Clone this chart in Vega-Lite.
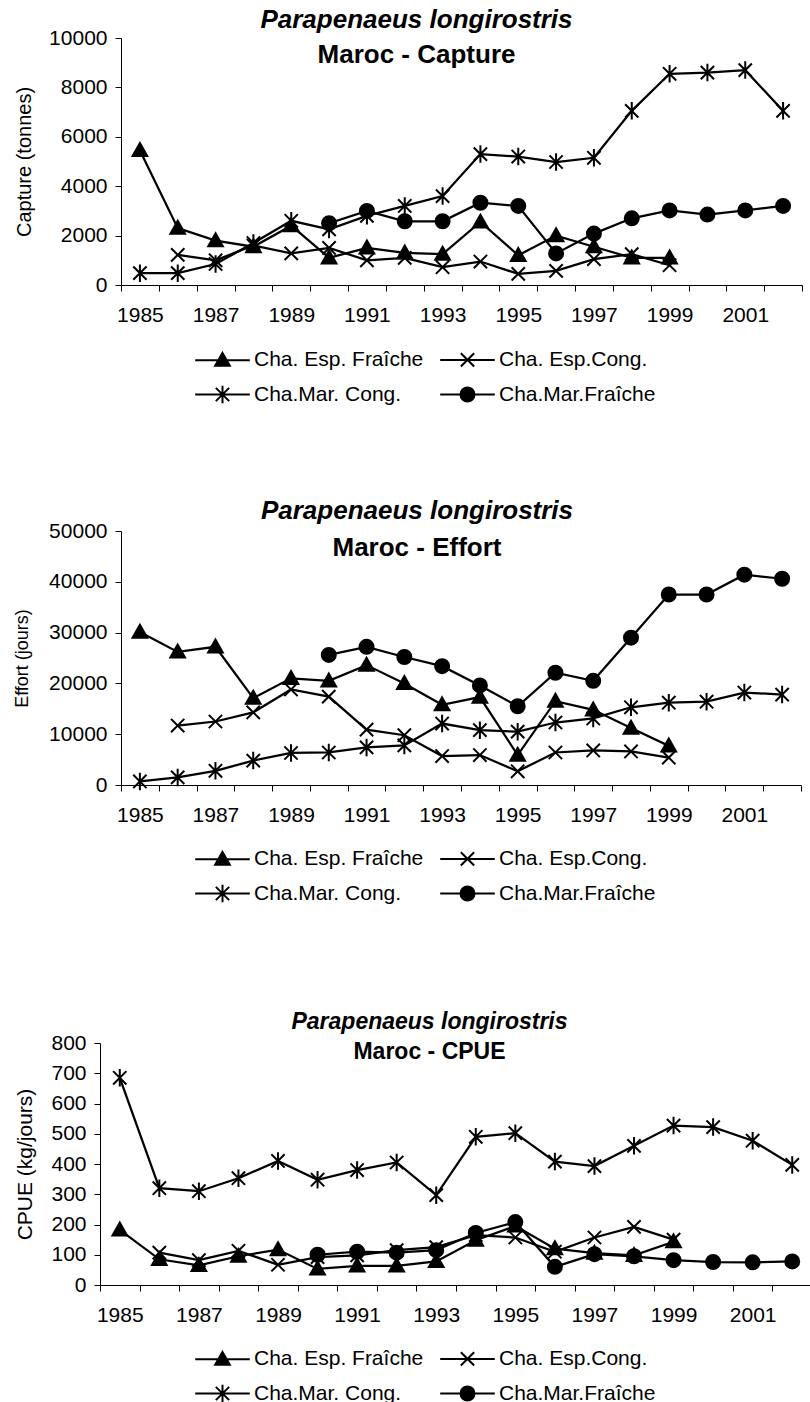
{
  "$schema": "https://vega.github.io/schema/vega-lite/v6.json",
  "background": "white",
  "padding": {"left": 13, "top": 7, "right": 0, "bottom": 0},
  "spacing": 90,
  "resolve": {"scale": {"shape": "independent"}, "legend": {"shape": "independent"}},
  "datasets": {
    "capture": [
      {"year": 1985, "s": "Cha. Esp. Fraîche", "v": 5450}, {"year": 1986, "s": "Cha. Esp. Fraîche", "v": 2300}, {"year": 1987, "s": "Cha. Esp. Fraîche", "v": 1800}, {"year": 1988, "s": "Cha. Esp. Fraîche", "v": 1550}, {"year": 1989, "s": "Cha. Esp. Fraîche", "v": 2400}, {"year": 1990, "s": "Cha. Esp. Fraîche", "v": 1100}, {"year": 1991, "s": "Cha. Esp. Fraîche", "v": 1500}, {"year": 1992, "s": "Cha. Esp. Fraîche", "v": 1300}, {"year": 1993, "s": "Cha. Esp. Fraîche", "v": 1250}, {"year": 1994, "s": "Cha. Esp. Fraîche", "v": 2550}, {"year": 1995, "s": "Cha. Esp. Fraîche", "v": 1200}, {"year": 1996, "s": "Cha. Esp. Fraîche", "v": 2000}, {"year": 1997, "s": "Cha. Esp. Fraîche", "v": 1550}, {"year": 1998, "s": "Cha. Esp. Fraîche", "v": 1100}, {"year": 1999, "s": "Cha. Esp. Fraîche", "v": 1100},
      {"year": 1986, "s": "Cha. Esp.Cong.", "v": 1220}, {"year": 1987, "s": "Cha. Esp.Cong.", "v": 1000}, {"year": 1988, "s": "Cha. Esp.Cong.", "v": 1600}, {"year": 1989, "s": "Cha. Esp.Cong.", "v": 1280}, {"year": 1990, "s": "Cha. Esp.Cong.", "v": 1500}, {"year": 1991, "s": "Cha. Esp.Cong.", "v": 1000}, {"year": 1992, "s": "Cha. Esp.Cong.", "v": 1100}, {"year": 1993, "s": "Cha. Esp.Cong.", "v": 720}, {"year": 1994, "s": "Cha. Esp.Cong.", "v": 950}, {"year": 1995, "s": "Cha. Esp.Cong.", "v": 450}, {"year": 1996, "s": "Cha. Esp.Cong.", "v": 570}, {"year": 1997, "s": "Cha. Esp.Cong.", "v": 1050}, {"year": 1998, "s": "Cha. Esp.Cong.", "v": 1250}, {"year": 1999, "s": "Cha. Esp.Cong.", "v": 800},
      {"year": 1985, "s": "Cha.Mar. Cong.", "v": 480}, {"year": 1986, "s": "Cha.Mar. Cong.", "v": 480}, {"year": 1987, "s": "Cha.Mar. Cong.", "v": 850}, {"year": 1988, "s": "Cha.Mar. Cong.", "v": 1700}, {"year": 1989, "s": "Cha.Mar. Cong.", "v": 2600}, {"year": 1990, "s": "Cha.Mar. Cong.", "v": 2250}, {"year": 1991, "s": "Cha.Mar. Cong.", "v": 2800}, {"year": 1992, "s": "Cha.Mar. Cong.", "v": 3200}, {"year": 1993, "s": "Cha.Mar. Cong.", "v": 3600}, {"year": 1994, "s": "Cha.Mar. Cong.", "v": 5300}, {"year": 1995, "s": "Cha.Mar. Cong.", "v": 5200}, {"year": 1996, "s": "Cha.Mar. Cong.", "v": 4980}, {"year": 1997, "s": "Cha.Mar. Cong.", "v": 5150}, {"year": 1998, "s": "Cha.Mar. Cong.", "v": 7050}, {"year": 1999, "s": "Cha.Mar. Cong.", "v": 8550}, {"year": 2000, "s": "Cha.Mar. Cong.", "v": 8600}, {"year": 2001, "s": "Cha.Mar. Cong.", "v": 8700}, {"year": 2002, "s": "Cha.Mar. Cong.", "v": 7050},
      {"year": 1990, "s": "Cha.Mar.Fraîche", "v": 2500}, {"year": 1991, "s": "Cha.Mar.Fraîche", "v": 3000}, {"year": 1992, "s": "Cha.Mar.Fraîche", "v": 2580}, {"year": 1993, "s": "Cha.Mar.Fraîche", "v": 2580}, {"year": 1994, "s": "Cha.Mar.Fraîche", "v": 3330}, {"year": 1995, "s": "Cha.Mar.Fraîche", "v": 3200}, {"year": 1996, "s": "Cha.Mar.Fraîche", "v": 1280}, {"year": 1997, "s": "Cha.Mar.Fraîche", "v": 2080}, {"year": 1998, "s": "Cha.Mar.Fraîche", "v": 2700}, {"year": 1999, "s": "Cha.Mar.Fraîche", "v": 3020}, {"year": 2000, "s": "Cha.Mar.Fraîche", "v": 2850}, {"year": 2001, "s": "Cha.Mar.Fraîche", "v": 3020}, {"year": 2002, "s": "Cha.Mar.Fraîche", "v": 3200}
    ],
    "effort": [
      {"year": 1985, "s": "Cha. Esp. Fraîche", "v": 30100}, {"year": 1986, "s": "Cha. Esp. Fraîche", "v": 26200}, {"year": 1987, "s": "Cha. Esp. Fraîche", "v": 27200}, {"year": 1988, "s": "Cha. Esp. Fraîche", "v": 17100}, {"year": 1989, "s": "Cha. Esp. Fraîche", "v": 21000}, {"year": 1990, "s": "Cha. Esp. Fraîche", "v": 20500}, {"year": 1991, "s": "Cha. Esp. Fraîche", "v": 23600}, {"year": 1992, "s": "Cha. Esp. Fraîche", "v": 20000}, {"year": 1993, "s": "Cha. Esp. Fraîche", "v": 15800}, {"year": 1994, "s": "Cha. Esp. Fraîche", "v": 17300}, {"year": 1995, "s": "Cha. Esp. Fraîche", "v": 5900}, {"year": 1996, "s": "Cha. Esp. Fraîche", "v": 16500}, {"year": 1997, "s": "Cha. Esp. Fraîche", "v": 14800}, {"year": 1998, "s": "Cha. Esp. Fraîche", "v": 11200}, {"year": 1999, "s": "Cha. Esp. Fraîche", "v": 7700},
      {"year": 1986, "s": "Cha. Esp.Cong.", "v": 11700}, {"year": 1987, "s": "Cha. Esp.Cong.", "v": 12500}, {"year": 1988, "s": "Cha. Esp.Cong.", "v": 14300}, {"year": 1989, "s": "Cha. Esp.Cong.", "v": 18800}, {"year": 1990, "s": "Cha. Esp.Cong.", "v": 17400}, {"year": 1991, "s": "Cha. Esp.Cong.", "v": 10900}, {"year": 1992, "s": "Cha. Esp.Cong.", "v": 9800}, {"year": 1993, "s": "Cha. Esp.Cong.", "v": 5700}, {"year": 1994, "s": "Cha. Esp.Cong.", "v": 5900}, {"year": 1995, "s": "Cha. Esp.Cong.", "v": 2700}, {"year": 1996, "s": "Cha. Esp.Cong.", "v": 6400}, {"year": 1997, "s": "Cha. Esp.Cong.", "v": 6800}, {"year": 1998, "s": "Cha. Esp.Cong.", "v": 6600}, {"year": 1999, "s": "Cha. Esp.Cong.", "v": 5400},
      {"year": 1985, "s": "Cha.Mar. Cong.", "v": 700}, {"year": 1986, "s": "Cha.Mar. Cong.", "v": 1500}, {"year": 1987, "s": "Cha.Mar. Cong.", "v": 2800}, {"year": 1988, "s": "Cha.Mar. Cong.", "v": 4800}, {"year": 1989, "s": "Cha.Mar. Cong.", "v": 6300}, {"year": 1990, "s": "Cha.Mar. Cong.", "v": 6400}, {"year": 1991, "s": "Cha.Mar. Cong.", "v": 7400}, {"year": 1992, "s": "Cha.Mar. Cong.", "v": 7800}, {"year": 1993, "s": "Cha.Mar. Cong.", "v": 12100}, {"year": 1994, "s": "Cha.Mar. Cong.", "v": 10800}, {"year": 1995, "s": "Cha.Mar. Cong.", "v": 10500}, {"year": 1996, "s": "Cha.Mar. Cong.", "v": 12300}, {"year": 1997, "s": "Cha.Mar. Cong.", "v": 13100}, {"year": 1998, "s": "Cha.Mar. Cong.", "v": 15300}, {"year": 1999, "s": "Cha.Mar. Cong.", "v": 16200}, {"year": 2000, "s": "Cha.Mar. Cong.", "v": 16400}, {"year": 2001, "s": "Cha.Mar. Cong.", "v": 18200}, {"year": 2002, "s": "Cha.Mar. Cong.", "v": 17800},
      {"year": 1990, "s": "Cha.Mar.Fraîche", "v": 25600}, {"year": 1991, "s": "Cha.Mar.Fraîche", "v": 27200}, {"year": 1992, "s": "Cha.Mar.Fraîche", "v": 25200}, {"year": 1993, "s": "Cha.Mar.Fraîche", "v": 23400}, {"year": 1994, "s": "Cha.Mar.Fraîche", "v": 19600}, {"year": 1995, "s": "Cha.Mar.Fraîche", "v": 15500}, {"year": 1996, "s": "Cha.Mar.Fraîche", "v": 22100}, {"year": 1997, "s": "Cha.Mar.Fraîche", "v": 20500}, {"year": 1998, "s": "Cha.Mar.Fraîche", "v": 29000}, {"year": 1999, "s": "Cha.Mar.Fraîche", "v": 37500}, {"year": 2000, "s": "Cha.Mar.Fraîche", "v": 37500}, {"year": 2001, "s": "Cha.Mar.Fraîche", "v": 41400}, {"year": 2002, "s": "Cha.Mar.Fraîche", "v": 40600}
    ],
    "cpue": [
      {"year": 1985, "s": "Cha. Esp. Fraîche", "v": 182}, {"year": 1986, "s": "Cha. Esp. Fraîche", "v": 85}, {"year": 1987, "s": "Cha. Esp. Fraîche", "v": 65}, {"year": 1988, "s": "Cha. Esp. Fraîche", "v": 95}, {"year": 1989, "s": "Cha. Esp. Fraîche", "v": 117}, {"year": 1990, "s": "Cha. Esp. Fraîche", "v": 53}, {"year": 1991, "s": "Cha. Esp. Fraîche", "v": 63}, {"year": 1992, "s": "Cha. Esp. Fraîche", "v": 63}, {"year": 1993, "s": "Cha. Esp. Fraîche", "v": 78}, {"year": 1994, "s": "Cha. Esp. Fraîche", "v": 148}, {"year": 1995, "s": "Cha. Esp. Fraîche", "v": 195}, {"year": 1996, "s": "Cha. Esp. Fraîche", "v": 120}, {"year": 1997, "s": "Cha. Esp. Fraîche", "v": 105}, {"year": 1998, "s": "Cha. Esp. Fraîche", "v": 98}, {"year": 1999, "s": "Cha. Esp. Fraîche", "v": 143},
      {"year": 1986, "s": "Cha. Esp.Cong.", "v": 107}, {"year": 1987, "s": "Cha. Esp.Cong.", "v": 82}, {"year": 1988, "s": "Cha. Esp.Cong.", "v": 113}, {"year": 1989, "s": "Cha. Esp.Cong.", "v": 67}, {"year": 1990, "s": "Cha. Esp.Cong.", "v": 92}, {"year": 1991, "s": "Cha. Esp.Cong.", "v": 98}, {"year": 1992, "s": "Cha. Esp.Cong.", "v": 115}, {"year": 1993, "s": "Cha. Esp.Cong.", "v": 125}, {"year": 1994, "s": "Cha. Esp.Cong.", "v": 165}, {"year": 1995, "s": "Cha. Esp.Cong.", "v": 157}, {"year": 1996, "s": "Cha. Esp.Cong.", "v": 110}, {"year": 1997, "s": "Cha. Esp.Cong.", "v": 157}, {"year": 1998, "s": "Cha. Esp.Cong.", "v": 192}, {"year": 1999, "s": "Cha. Esp.Cong.", "v": 150},
      {"year": 1985, "s": "Cha.Mar. Cong.", "v": 685}, {"year": 1986, "s": "Cha.Mar. Cong.", "v": 320}, {"year": 1987, "s": "Cha.Mar. Cong.", "v": 310}, {"year": 1988, "s": "Cha.Mar. Cong.", "v": 353}, {"year": 1989, "s": "Cha.Mar. Cong.", "v": 410}, {"year": 1990, "s": "Cha.Mar. Cong.", "v": 348}, {"year": 1991, "s": "Cha.Mar. Cong.", "v": 380}, {"year": 1992, "s": "Cha.Mar. Cong.", "v": 405}, {"year": 1993, "s": "Cha.Mar. Cong.", "v": 297}, {"year": 1994, "s": "Cha.Mar. Cong.", "v": 490}, {"year": 1995, "s": "Cha.Mar. Cong.", "v": 502}, {"year": 1996, "s": "Cha.Mar. Cong.", "v": 408}, {"year": 1997, "s": "Cha.Mar. Cong.", "v": 393}, {"year": 1998, "s": "Cha.Mar. Cong.", "v": 460}, {"year": 1999, "s": "Cha.Mar. Cong.", "v": 527}, {"year": 2000, "s": "Cha.Mar. Cong.", "v": 522}, {"year": 2001, "s": "Cha.Mar. Cong.", "v": 477}, {"year": 2002, "s": "Cha.Mar. Cong.", "v": 397},
      {"year": 1990, "s": "Cha.Mar.Fraîche", "v": 100}, {"year": 1991, "s": "Cha.Mar.Fraîche", "v": 110}, {"year": 1992, "s": "Cha.Mar.Fraîche", "v": 107}, {"year": 1993, "s": "Cha.Mar.Fraîche", "v": 115}, {"year": 1994, "s": "Cha.Mar.Fraîche", "v": 172}, {"year": 1995, "s": "Cha.Mar.Fraîche", "v": 208}, {"year": 1996, "s": "Cha.Mar.Fraîche", "v": 60}, {"year": 1997, "s": "Cha.Mar.Fraîche", "v": 102}, {"year": 1998, "s": "Cha.Mar.Fraîche", "v": 95}, {"year": 1999, "s": "Cha.Mar.Fraîche", "v": 82}, {"year": 2000, "s": "Cha.Mar.Fraîche", "v": 76}, {"year": 2001, "s": "Cha.Mar.Fraîche", "v": 75}, {"year": 2002, "s": "Cha.Mar.Fraîche", "v": 78}
    ]
  },
  "vconcat": [
    {
      "width": 681, "height": 247,
      "data": {"name": "capture"},
      "title": {"text": "Parapenaeus longirostris", "subtitle": "Maroc - Capture", "offset": -41, "dx": -45, "subtitlePadding": 9},
      "resolve": {"scale": {"shape": "independent"}, "legend": {"shape": "independent"}},
      "encoding": {
        "x": {"field": "year", "type": "ordinal", "scale": {"type": "band", "domain": [1985,1986,1987,1988,1989,1990,1991,1992,1993,1994,1995,1996,1997,1998,1999,2000,2001,2002], "paddingInner": 0, "paddingOuter": 0}, "axis": {"title": null, "tickBand": "extent", "tickSize": 6, "labelPadding": 13, "labelAngle": 0, "labelOverlap": false, "labelExpr": "datum.value % 2 == 1 ? datum.label : ''"}},
        "y": {"field": "v", "type": "quantitative", "scale": {"domain": [0, 10000], "nice": false}, "axis": {"title": "Capture (tonnes)", "format": "d", "values": [0, 2000, 4000, 6000, 8000, 10000], "tickSize": 6, "labelPadding": 8, "titlePadding": 14, "titleFontSize": 20}}
      },
      "layer": [
        {"mark": {"type": "line", "color": "black", "strokeWidth": 2.25}, "encoding": {"detail": {"field": "s"}}},
        {"mark": {"type": "point", "filled": true, "color": "black", "stroke": "black", "strokeWidth": 2, "size": 196, "opacity": 1},
         "encoding": {
           "shape": {"field": "s", "type": "nominal", "legend": null,
             "scale": {"domain": ["Cha.Mar.Fraîche", "Cha.Mar. Cong.", "Cha. Esp.Cong.", "Cha. Esp. Fraîche"], "range": ["circle", "M-0.95,-0.95L0.95,0.95M-0.95,0.95L0.95,-0.95M0,-1.25L0,1.25", "M-0.95,-0.95L0.95,0.95M-0.95,0.95L0.95,-0.95", "M0,-1.05L1.05,0.8L-1.05,0.8Z"]}}}},
        {"transform": [{"filter": "false"}],
         "mark": {"type": "point", "filled": true, "color": "black", "stroke": "black", "strokeWidth": 2, "size": 196, "opacity": 1},
         "encoding": {
           "shape": {"field": "s", "type": "nominal",
             "scale": {"domain": ["Cha. Esp. Fraîche", "Cha. Esp.Cong.", "Cha.Mar. Cong.", "Cha.Mar.Fraîche"], "range": ["M-3.9,0L3.9,0M0,-1.05L1.05,0.8L-1.05,0.8Z", "M-3.9,0L3.9,0M-0.95,-0.95L0.95,0.95M-0.95,0.95L0.95,-0.95", "M-3.9,0L3.9,0M-0.95,-0.95L0.95,0.95M-0.95,0.95L0.95,-0.95M0,-1.25L0,1.25", "M-3.9,0L3.9,0M1,0A1,1,0,1,1,-1,0A1,1,0,1,1,1,0Z"]},
             "legend": {"orient": "none", "legendX": 71, "legendY": 310}}}}
      ]
    },
    {
      "spacing": 104,
      "resolve": {"scale": {"shape": "independent"}, "legend": {"shape": "independent"}},
      "vconcat": [
    {
      "width": 680, "height": 254,
      "data": {"name": "effort"},
      "title": {"text": "Parapenaeus longirostris", "subtitle": "Maroc - Effort", "offset": -41, "dx": -44, "subtitlePadding": 11},
      "resolve": {"scale": {"shape": "independent"}, "legend": {"shape": "independent"}},
      "encoding": {
        "x": {"field": "year", "type": "ordinal", "scale": {"type": "band", "domain": [1985,1986,1987,1988,1989,1990,1991,1992,1993,1994,1995,1996,1997,1998,1999,2000,2001,2002], "paddingInner": 0, "paddingOuter": 0}, "axis": {"title": null, "tickBand": "extent", "tickSize": 6, "labelPadding": 13, "labelAngle": 0, "labelOverlap": false, "labelExpr": "datum.value % 2 == 1 ? datum.label : ''"}},
        "y": {"field": "v", "type": "quantitative", "scale": {"domain": [0, 50000], "nice": false}, "axis": {"title": "Effort (jours)", "format": "d", "values": [0, 10000, 20000, 30000, 40000, 50000], "tickSize": 6, "labelPadding": 8, "titlePadding": 17, "titleFontSize": 18}}
      },
      "layer": [
        {"mark": {"type": "line", "color": "black", "strokeWidth": 2.25}, "encoding": {"detail": {"field": "s"}}},
        {"mark": {"type": "point", "filled": true, "color": "black", "stroke": "black", "strokeWidth": 2, "size": 196, "opacity": 1},
         "encoding": {
           "shape": {"field": "s", "type": "nominal", "legend": null,
             "scale": {"domain": ["Cha.Mar.Fraîche", "Cha.Mar. Cong.", "Cha. Esp.Cong.", "Cha. Esp. Fraîche"], "range": ["circle", "M-0.95,-0.95L0.95,0.95M-0.95,0.95L0.95,-0.95M0,-1.25L0,1.25", "M-0.95,-0.95L0.95,0.95M-0.95,0.95L0.95,-0.95", "M0,-1.05L1.05,0.8L-1.05,0.8Z"]}}}},
        {"transform": [{"filter": "false"}],
         "mark": {"type": "point", "filled": true, "color": "black", "stroke": "black", "strokeWidth": 2, "size": 196, "opacity": 1},
         "encoding": {
           "shape": {"field": "s", "type": "nominal",
             "scale": {"domain": ["Cha. Esp. Fraîche", "Cha. Esp.Cong.", "Cha.Mar. Cong.", "Cha.Mar.Fraîche"], "range": ["M-3.9,0L3.9,0M0,-1.05L1.05,0.8L-1.05,0.8Z", "M-3.9,0L3.9,0M-0.95,-0.95L0.95,0.95M-0.95,0.95L0.95,-0.95", "M-3.9,0L3.9,0M-0.95,-0.95L0.95,0.95M-0.95,0.95L0.95,-0.95M0,-1.25L0,1.25", "M-3.9,0L3.9,0M1,0A1,1,0,1,1,-1,0A1,1,0,1,1,1,0Z"]},
             "legend": {"orient": "none", "legendX": 71, "legendY": 316}}}}
      ]
    },
    {
      "width": 691, "height": 242,
      "data": {"name": "cpue"},
      "title": {"text": "Parapenaeus longirostris", "subtitle": "Maroc - CPUE", "offset": -32, "dx": -37, "subtitlePadding": 7, "fontSize": 23, "subtitleFontSize": 23},
      "resolve": {"scale": {"shape": "independent"}, "legend": {"shape": "independent"}},
      "encoding": {
        "x": {"field": "year", "type": "ordinal", "scale": {"type": "band", "domain": [1985,1986,1987,1988,1989,1990,1991,1992,1993,1994,1995,1996,1997,1998,1999,2000,2001,2002], "paddingInner": 0, "paddingOuter": 0, "range": [-21, 691]}, "axis": {"title": null, "tickBand": "extent", "tickSize": 6, "labelPadding": 13, "labelAngle": 0, "labelOverlap": false, "labelExpr": "datum.value % 2 == 1 ? datum.label : ''"}},
        "y": {"field": "v", "type": "quantitative", "scale": {"domain": [0, 800], "nice": false}, "axis": {"title": "CPUE (kg/jours)", "format": "d", "offset": 21, "values": [0, 100, 200, 300, 400, 500, 600, 700, 800], "tickSize": 6, "labelPadding": 8, "titlePadding": 15, "titleFontSize": 21}}
      },
      "layer": [
        {"mark": {"type": "line", "color": "black", "strokeWidth": 2.25}, "encoding": {"detail": {"field": "s"}}},
        {"mark": {"type": "point", "filled": true, "color": "black", "stroke": "black", "strokeWidth": 2, "size": 196, "opacity": 1},
         "encoding": {
           "shape": {"field": "s", "type": "nominal", "legend": null,
             "scale": {"domain": ["Cha.Mar.Fraîche", "Cha.Mar. Cong.", "Cha. Esp.Cong.", "Cha. Esp. Fraîche"], "range": ["circle", "M-0.95,-0.95L0.95,0.95M-0.95,0.95L0.95,-0.95M0,-1.25L0,1.25", "M-0.95,-0.95L0.95,0.95M-0.95,0.95L0.95,-0.95", "M0,-1.05L1.05,0.8L-1.05,0.8Z"]}}}},
        {"transform": [{"filter": "false"}],
         "mark": {"type": "point", "filled": true, "color": "black", "stroke": "black", "strokeWidth": 2, "size": 196, "opacity": 1},
         "encoding": {
           "shape": {"field": "s", "type": "nominal",
             "scale": {"domain": ["Cha. Esp. Fraîche", "Cha. Esp.Cong.", "Cha.Mar. Cong.", "Cha.Mar.Fraîche"], "range": ["M-3.9,0L3.9,0M0,-1.05L1.05,0.8L-1.05,0.8Z", "M-3.9,0L3.9,0M-0.95,-0.95L0.95,0.95M-0.95,0.95L0.95,-0.95", "M-3.9,0L3.9,0M-0.95,-0.95L0.95,0.95M-0.95,0.95L0.95,-0.95M0,-1.25L0,1.25", "M-3.9,0L3.9,0M1,0A1,1,0,1,1,-1,0A1,1,0,1,1,1,0Z"]},
             "legend": {"orient": "none", "legendX": 71, "legendY": 304}}}}
      ]
    }
      ]
    }
  ],
  "config": {
    "font": "Liberation Sans",
    "view": {"stroke": null},
    "axis": {"domainColor": "black", "tickColor": "black", "labelColor": "black", "titleColor": "black", "labelFont": "Liberation Sans", "titleFont": "Liberation Sans", "labelFontSize": 21, "titleFontWeight": "normal", "grid": false, "domainWidth": 1, "tickWidth": 1},
    "title": {"font": "Liberation Sans", "fontSize": 26, "fontStyle": "italic", "fontWeight": "bold", "color": "black", "subtitleFont": "Liberation Sans", "subtitleFontSize": 26, "subtitleFontWeight": "bold", "subtitleFontStyle": "normal", "subtitleColor": "black", "anchor": "middle", "frame": "group"},
    "legend": {
      "title": null, "direction": "horizontal", "columns": 2, "gridAlign": "all",
      "labelFont": "Liberation Sans", "labelFontSize": 21, "labelColor": "black", "labelLimit": 400,
      "symbolSize": 196, "symbolOffset": 20, "labelOffset": 21, "rowPadding": 9, "columnPadding": 12, "padding": 0,
      "symbolStrokeWidth": 2, "symbolOpacity": 1
    }
  }
}
